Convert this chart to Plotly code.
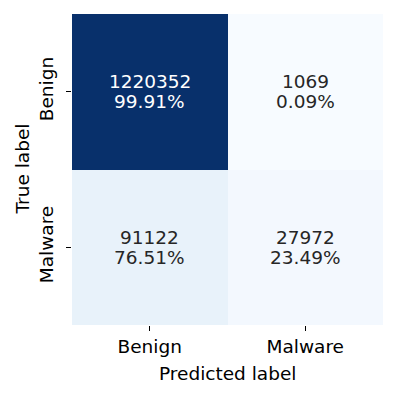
import plotly.graph_objects as go

# confusion matrix values
labels = ["Benign", "Malware"]
counts = [[1220352, 1069],
          [91122, 27972]]
percents = [["99.91%", "0.09%"],
            ["76.51%", "23.49%"]]

# matplotlib "Blues"
blues = ["#f7fbff", "#deebf7", "#c6dbef", "#9ecae1", "#6baed6",
         "#4292c6", "#2171b5", "#08519c", "#08306b"]
scale = [[i / 8, c] for i, c in enumerate(blues)]

font = dict(family="DejaVu Sans", size=18.5, color="#000000")

fig = go.Figure()
fig.add_trace(go.Heatmap(
    z=counts, x=labels, y=labels,
    colorscale=scale, showscale=False,
    zmin=min(min(r) for r in counts), zmax=max(max(r) for r in counts),
    xgap=0, ygap=0, hoverinfo="skip",
))

zmax = max(max(r) for r in counts)
for i, row_lab in enumerate(labels):
    for j, col_lab in enumerate(labels):
        col = "#ffffff" if counts[i][j] > zmax / 2 else "#262626"
        fig.add_annotation(x=col_lab, y=row_lab, text=str(counts[i][j]),
                           showarrow=False, yshift=10,
                           font=dict(family="DejaVu Sans", size=18.5, color=col))
        fig.add_annotation(x=col_lab, y=row_lab, text=percents[i][j],
                           showarrow=False, yshift=-10,
                           font=dict(family="DejaVu Sans", size=18.5, color=col))

# axis titles
fig.add_annotation(xref="paper", yref="paper", x=0.5, y=0, yshift=-48,
                   xanchor="center", yanchor="middle",
                   text="Predicted label", showarrow=False, font=font)
fig.add_annotation(xref="paper", yref="paper", x=0, y=0.5, xshift=-50,
                   xanchor="center", yanchor="middle",
                   text="True label", textangle=-90, showarrow=False, font=font)

fig.update_xaxes(ticks="outside", ticklen=5, tickwidth=1, tickcolor="#000",
                 showgrid=False, zeroline=False, showline=False,
                 tickfont=font, automargin=False)
fig.update_yaxes(ticks="outside", ticklen=5, tickwidth=1, tickcolor="#000",
                 showgrid=False, zeroline=False, showline=False,
                 tickfont=font, tickangle=-90, autorange="reversed",
                 automargin=False, ticklabelstandoff=6)

# page body adds an 8px offset, so margins are shifted to compensate
fig.update_layout(
    width=397, height=397, autosize=False,
    margin=dict(l=64, r=22, t=6, b=80),
    paper_bgcolor="#ffffff", plot_bgcolor="#ffffff",
    font=font,
)

fig.write_html("out.html")
